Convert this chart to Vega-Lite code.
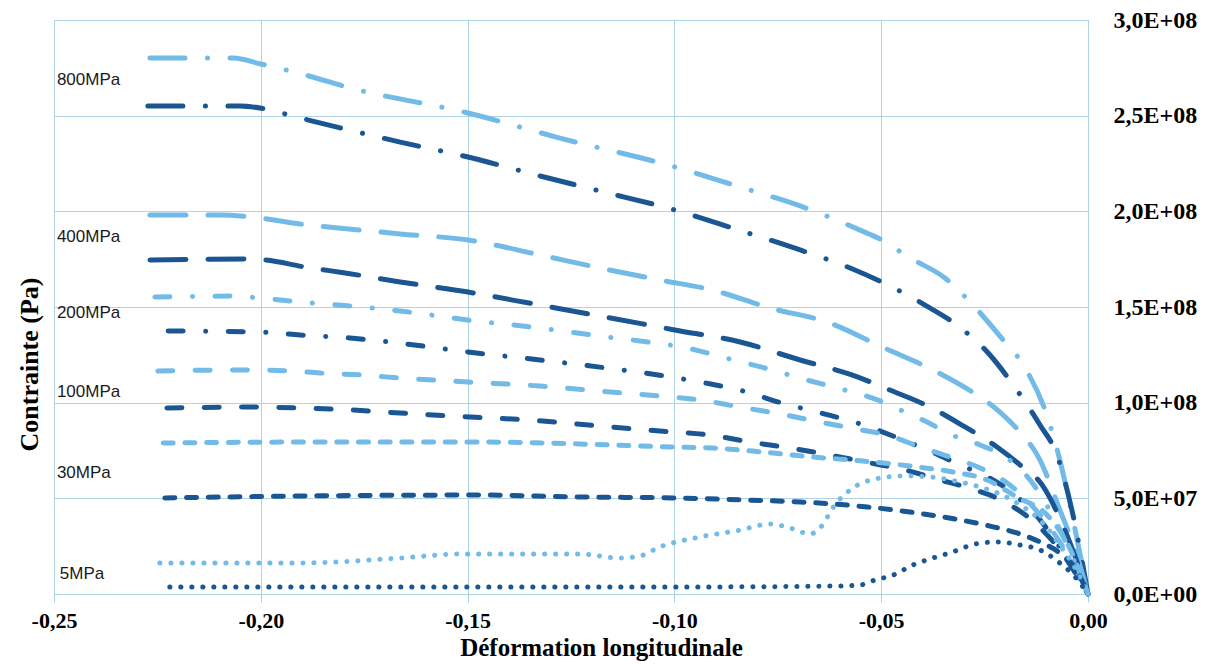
{
"$schema": "https://vega.github.io/schema/vega-lite/v6.json",
"width": 1034, "height": 574,
"autosize": {"type": "none"},
"padding": {"left": 54, "top": 20, "right": 121, "bottom": 70},
"background": "white",
"config": {"view": {"stroke": "#a9cfe4", "strokeWidth": 1}},
"datasets": {
"curves": [
{"c":"L800","p":"800","tone":"light","e":-0.2268,"s":2.801e8},{"c":"L800","p":"800","tone":"light","e":-0.2067,"s":2.801e8},{"c":"L800","p":"800","tone":"light","e":-0.2000,"s":2.770e8},{"c":"L800","p":"800","tone":"light","e":-0.1893,"s":2.713e8},{"c":"L800","p":"800","tone":"light","e":-0.1784,"s":2.645e8},{"c":"L800","p":"800","tone":"light","e":-0.1499,"s":2.514e8},{"c":"L800","p":"800","tone":"light","e":-0.1277,"s":2.383e8},{"c":"L800","p":"800","tone":"light","e":-0.0999,"s":2.232e8},{"c":"L800","p":"800","tone":"light","e":-0.0841,"s":2.127e8},{"c":"L800","p":"800","tone":"light","e":-0.0696,"s":2.028e8},{"c":"L800","p":"800","tone":"light","e":-0.0551,"s":1.902e8},{"c":"L800","p":"800","tone":"light","e":-0.0498,"s":1.850e8},{"c":"L800","p":"800","tone":"light","e":-0.0430,"s":1.756e8},{"c":"L800","p":"800","tone":"light","e":-0.0346,"s":1.652e8},{"c":"L800","p":"800","tone":"light","e":-0.0278,"s":1.510e8},{"c":"L800","p":"800","tone":"light","e":-0.0213,"s":1.348e8},{"c":"L800","p":"800","tone":"light","e":-0.0152,"s":1.181e8},{"c":"L800","p":"800","tone":"light","e":-0.0104,"s":0.962e8},{"c":"L800","p":"800","tone":"light","e":-0.0068,"s":0.700e8},{"c":"L800","p":"800","tone":"light","e":-0.0031,"s":0.334e8},{"c":"L800","p":"800","tone":"light","e":0,"s":0},
{"c":"D800","p":"800","tone":"dark","e":-0.2273,"s":2.551e8},{"c":"D800","p":"800","tone":"dark","e":-0.2050,"s":2.551e8},{"c":"D800","p":"800","tone":"dark","e":-0.2002,"s":2.540e8},{"c":"D800","p":"800","tone":"dark","e":-0.1905,"s":2.488e8},{"c":"D800","p":"800","tone":"dark","e":-0.1808,"s":2.436e8},{"c":"D800","p":"800","tone":"dark","e":-0.1663,"s":2.362e8},{"c":"D800","p":"800","tone":"dark","e":-0.1499,"s":2.284e8},{"c":"D800","p":"800","tone":"dark","e":-0.1325,"s":2.185e8},{"c":"D800","p":"800","tone":"dark","e":-0.1180,"s":2.106e8},{"c":"D800","p":"800","tone":"dark","e":-0.0999,"s":2.007e8},{"c":"D800","p":"800","tone":"dark","e":-0.0853,"s":1.908e8},{"c":"D800","p":"800","tone":"dark","e":-0.0696,"s":1.798e8},{"c":"D800","p":"800","tone":"dark","e":-0.0575,"s":1.704e8},{"c":"D800","p":"800","tone":"dark","e":-0.0484,"s":1.615e8},{"c":"D800","p":"800","tone":"dark","e":-0.0394,"s":1.510e8},{"c":"D800","p":"800","tone":"dark","e":-0.0314,"s":1.401e8},{"c":"D800","p":"800","tone":"dark","e":-0.0237,"s":1.249e8},{"c":"D800","p":"800","tone":"dark","e":-0.0179,"s":1.087e8},{"c":"D800","p":"800","tone":"dark","e":-0.0116,"s":0.883e8},{"c":"D800","p":"800","tone":"dark","e":-0.0075,"s":0.726e8},{"c":"D800","p":"800","tone":"dark","e":-0.0039,"s":0.439e8},{"c":"D800","p":"800","tone":"dark","e":0,"s":0},
{"c":"L400","p":"400","tone":"light","e":-0.2268,"s":1.981e8},{"c":"L400","p":"400","tone":"light","e":-0.2099,"s":1.981e8},{"c":"L400","p":"400","tone":"light","e":-0.2002,"s":1.965e8},{"c":"L400","p":"400","tone":"light","e":-0.1905,"s":1.934e8},{"c":"L400","p":"400","tone":"light","e":-0.1760,"s":1.902e8},{"c":"L400","p":"400","tone":"light","e":-0.1663,"s":1.882e8},{"c":"L400","p":"400","tone":"light","e":-0.1499,"s":1.850e8},{"c":"L400","p":"400","tone":"light","e":-0.1325,"s":1.772e8},{"c":"L400","p":"400","tone":"light","e":-0.1180,"s":1.704e8},{"c":"L400","p":"400","tone":"light","e":-0.1035,"s":1.641e8},{"c":"L400","p":"400","tone":"light","e":-0.0909,"s":1.589e8},{"c":"L400","p":"400","tone":"light","e":-0.0769,"s":1.495e8},{"c":"L400","p":"400","tone":"light","e":-0.0624,"s":1.416e8},{"c":"L400","p":"400","tone":"light","e":-0.0498,"s":1.291e8},{"c":"L400","p":"400","tone":"light","e":-0.0365,"s":1.160e8},{"c":"L400","p":"400","tone":"light","e":-0.0280,"s":1.056e8},{"c":"L400","p":"400","tone":"light","e":-0.0213,"s":0.951e8},{"c":"L400","p":"400","tone":"light","e":-0.0169,"s":0.857e8},{"c":"L400","p":"400","tone":"light","e":-0.0116,"s":0.700e8},{"c":"L400","p":"400","tone":"light","e":-0.0068,"s":0.439e8},{"c":"L400","p":"400","tone":"light","e":-0.0031,"s":0.230e8},{"c":"L400","p":"400","tone":"light","e":0,"s":0},
{"c":"D400","p":"400","tone":"dark","e":-0.2268,"s":1.746e8},{"c":"D400","p":"400","tone":"dark","e":-0.2038,"s":1.751e8},{"c":"D400","p":"400","tone":"dark","e":-0.1990,"s":1.746e8},{"c":"D400","p":"400","tone":"dark","e":-0.1893,"s":1.709e8},{"c":"D400","p":"400","tone":"dark","e":-0.1796,"s":1.678e8},{"c":"D400","p":"400","tone":"dark","e":-0.1663,"s":1.631e8},{"c":"D400","p":"400","tone":"dark","e":-0.1499,"s":1.578e8},{"c":"D400","p":"400","tone":"dark","e":-0.1325,"s":1.510e8},{"c":"D400","p":"400","tone":"dark","e":-0.1180,"s":1.453e8},{"c":"D400","p":"400","tone":"dark","e":-0.0999,"s":1.380e8},{"c":"D400","p":"400","tone":"dark","e":-0.0841,"s":1.317e8},{"c":"D400","p":"400","tone":"dark","e":-0.0696,"s":1.223e8},{"c":"D400","p":"400","tone":"dark","e":-0.0571,"s":1.145e8},{"c":"D400","p":"400","tone":"dark","e":-0.0479,"s":1.066e8},{"c":"D400","p":"400","tone":"dark","e":-0.0382,"s":0.977e8},{"c":"D400","p":"400","tone":"dark","e":-0.0305,"s":0.883e8},{"c":"D400","p":"400","tone":"dark","e":-0.0220,"s":0.768e8},{"c":"D400","p":"400","tone":"dark","e":-0.0164,"s":0.674e8},{"c":"D400","p":"400","tone":"dark","e":-0.0111,"s":0.570e8},{"c":"D400","p":"400","tone":"dark","e":-0.0056,"s":0.334e8},{"c":"D400","p":"400","tone":"dark","e":0,"s":0},
{"c":"L200","p":"200","tone":"light","e":-0.2256,"s":1.552e8},{"c":"L200","p":"200","tone":"light","e":-0.2074,"s":1.557e8},{"c":"L200","p":"200","tone":"light","e":-0.2002,"s":1.547e8},{"c":"L200","p":"200","tone":"light","e":-0.1905,"s":1.526e8},{"c":"L200","p":"200","tone":"light","e":-0.1784,"s":1.505e8},{"c":"L200","p":"200","tone":"light","e":-0.1663,"s":1.479e8},{"c":"L200","p":"200","tone":"light","e":-0.1499,"s":1.432e8},{"c":"L200","p":"200","tone":"light","e":-0.1325,"s":1.390e8},{"c":"L200","p":"200","tone":"light","e":-0.1161,"s":1.343e8},{"c":"L200","p":"200","tone":"light","e":-0.1064,"s":1.317e8},{"c":"L200","p":"200","tone":"light","e":-0.0970,"s":1.286e8},{"c":"L200","p":"200","tone":"light","e":-0.0875,"s":1.233e8},{"c":"L200","p":"200","tone":"light","e":-0.0781,"s":1.181e8},{"c":"L200","p":"200","tone":"light","e":-0.0689,"s":1.124e8},{"c":"L200","p":"200","tone":"light","e":-0.0597,"s":1.071e8},{"c":"L200","p":"200","tone":"light","e":-0.0508,"s":1.014e8},{"c":"L200","p":"200","tone":"light","e":-0.0459,"s":0.967e8},{"c":"L200","p":"200","tone":"light","e":-0.0394,"s":0.904e8},{"c":"L200","p":"200","tone":"light","e":-0.0329,"s":0.831e8},{"c":"L200","p":"200","tone":"light","e":-0.0261,"s":0.779e8},{"c":"L200","p":"200","tone":"light","e":-0.0196,"s":0.711e8},{"c":"L200","p":"200","tone":"light","e":-0.0140,"s":0.596e8},{"c":"L200","p":"200","tone":"light","e":-0.0080,"s":0.387e8},{"c":"L200","p":"200","tone":"light","e":0,"s":0},
{"c":"D200","p":"200","tone":"dark","e":-0.2224,"s":1.375e8},{"c":"D200","p":"200","tone":"dark","e":-0.2002,"s":1.369e8},{"c":"D200","p":"200","tone":"dark","e":-0.1905,"s":1.354e8},{"c":"D200","p":"200","tone":"dark","e":-0.1784,"s":1.338e8},{"c":"D200","p":"200","tone":"dark","e":-0.1688,"s":1.317e8},{"c":"D200","p":"200","tone":"dark","e":-0.1499,"s":1.265e8},{"c":"D200","p":"200","tone":"dark","e":-0.1325,"s":1.223e8},{"c":"D200","p":"200","tone":"dark","e":-0.1163,"s":1.181e8},{"c":"D200","p":"200","tone":"dark","e":-0.1023,"s":1.139e8},{"c":"D200","p":"200","tone":"dark","e":-0.0926,"s":1.103e8},{"c":"D200","p":"200","tone":"dark","e":-0.0834,"s":1.061e8},{"c":"D200","p":"200","tone":"dark","e":-0.0740,"s":0.998e8},{"c":"D200","p":"200","tone":"dark","e":-0.0646,"s":0.946e8},{"c":"D200","p":"200","tone":"dark","e":-0.0551,"s":0.889e8},{"c":"D200","p":"200","tone":"dark","e":-0.0459,"s":0.815e8},{"c":"D200","p":"200","tone":"dark","e":-0.0372,"s":0.737e8},{"c":"D200","p":"200","tone":"dark","e":-0.0309,"s":0.674e8},{"c":"D200","p":"200","tone":"dark","e":-0.0242,"s":0.611e8},{"c":"D200","p":"200","tone":"dark","e":-0.0176,"s":0.517e8},{"c":"D200","p":"200","tone":"dark","e":-0.0116,"s":0.387e8},{"c":"D200","p":"200","tone":"dark","e":-0.0056,"s":0.204e8},{"c":"D200","p":"200","tone":"dark","e":0,"s":0},
{"c":"L100","p":"100","tone":"light","e":-0.2249,"s":1.166e8},{"c":"L100","p":"100","tone":"light","e":-0.2026,"s":1.171e8},{"c":"L100","p":"100","tone":"light","e":-0.1929,"s":1.166e8},{"c":"L100","p":"100","tone":"light","e":-0.1857,"s":1.155e8},{"c":"L100","p":"100","tone":"light","e":-0.1760,"s":1.145e8},{"c":"L100","p":"100","tone":"light","e":-0.1663,"s":1.129e8},{"c":"L100","p":"100","tone":"light","e":-0.1499,"s":1.108e8},{"c":"L100","p":"100","tone":"light","e":-0.1325,"s":1.087e8},{"c":"L100","p":"100","tone":"light","e":-0.1156,"s":1.056e8},{"c":"L100","p":"100","tone":"light","e":-0.1035,"s":1.035e8},{"c":"L100","p":"100","tone":"light","e":-0.0938,"s":1.014e8},{"c":"L100","p":"100","tone":"light","e":-0.0841,"s":0.977e8},{"c":"L100","p":"100","tone":"light","e":-0.0745,"s":0.941e8},{"c":"L100","p":"100","tone":"light","e":-0.0660,"s":0.904e8},{"c":"L100","p":"100","tone":"light","e":-0.0575,"s":0.868e8},{"c":"L100","p":"100","tone":"light","e":-0.0479,"s":0.826e8},{"c":"L100","p":"100","tone":"light","e":-0.0406,"s":0.768e8},{"c":"L100","p":"100","tone":"light","e":-0.0334,"s":0.716e8},{"c":"L100","p":"100","tone":"light","e":-0.0261,"s":0.659e8},{"c":"L100","p":"100","tone":"light","e":-0.0189,"s":0.570e8},{"c":"L100","p":"100","tone":"light","e":-0.0116,"s":0.413e8},{"c":"L100","p":"100","tone":"light","e":-0.0056,"s":0.230e8},{"c":"L100","p":"100","tone":"light","e":0,"s":0},
{"c":"D100","p":"100","tone":"dark","e":-0.2227,"s":0.972e8},{"c":"D100","p":"100","tone":"dark","e":-0.2026,"s":0.977e8},{"c":"D100","p":"100","tone":"dark","e":-0.1905,"s":0.972e8},{"c":"D100","p":"100","tone":"dark","e":-0.1784,"s":0.962e8},{"c":"D100","p":"100","tone":"dark","e":-0.1663,"s":0.946e8},{"c":"D100","p":"100","tone":"dark","e":-0.1494,"s":0.925e8},{"c":"D100","p":"100","tone":"dark","e":-0.1349,"s":0.909e8},{"c":"D100","p":"100","tone":"dark","e":-0.1180,"s":0.878e8},{"c":"D100","p":"100","tone":"dark","e":-0.1035,"s":0.852e8},{"c":"D100","p":"100","tone":"dark","e":-0.0914,"s":0.831e8},{"c":"D100","p":"100","tone":"dark","e":-0.0817,"s":0.794e8},{"c":"D100","p":"100","tone":"dark","e":-0.0720,"s":0.763e8},{"c":"D100","p":"100","tone":"dark","e":-0.0624,"s":0.726e8},{"c":"D100","p":"100","tone":"dark","e":-0.0527,"s":0.685e8},{"c":"D100","p":"100","tone":"dark","e":-0.0442,"s":0.648e8},{"c":"D100","p":"100","tone":"dark","e":-0.0358,"s":0.596e8},{"c":"D100","p":"100","tone":"dark","e":-0.0273,"s":0.544e8},{"c":"D100","p":"100","tone":"dark","e":-0.0201,"s":0.481e8},{"c":"D100","p":"100","tone":"dark","e":-0.0128,"s":0.371e8},{"c":"D100","p":"100","tone":"dark","e":-0.0068,"s":0.230e8},{"c":"D100","p":"100","tone":"dark","e":0,"s":0},
{"c":"L30","p":"30","tone":"light","e":-0.2236,"s":0.789e8},{"c":"L30","p":"30","tone":"light","e":-0.1905,"s":0.794e8},{"c":"L30","p":"30","tone":"light","e":-0.1470,"s":0.794e8},{"c":"L30","p":"30","tone":"light","e":-0.1228,"s":0.784e8},{"c":"L30","p":"30","tone":"light","e":-0.1003,"s":0.768e8},{"c":"L30","p":"30","tone":"light","e":-0.0907,"s":0.763e8},{"c":"L30","p":"30","tone":"light","e":-0.0786,"s":0.742e8},{"c":"L30","p":"30","tone":"light","e":-0.0665,"s":0.716e8},{"c":"L30","p":"30","tone":"light","e":-0.0544,"s":0.695e8},{"c":"L30","p":"30","tone":"light","e":-0.0413,"s":0.664e8},{"c":"L30","p":"30","tone":"light","e":-0.0327,"s":0.638e8},{"c":"L30","p":"30","tone":"light","e":-0.0244,"s":0.596e8},{"c":"L30","p":"30","tone":"light","e":-0.0172,"s":0.507e8},{"c":"L30","p":"30","tone":"light","e":-0.0099,"s":0.413e8},{"c":"L30","p":"30","tone":"light","e":-0.0048,"s":0.256e8},{"c":"L30","p":"30","tone":"light","e":0,"s":0},
{"c":"D30","p":"30","tone":"dark","e":-0.2232,"s":0.502e8},{"c":"D30","p":"30","tone":"dark","e":-0.1905,"s":0.512e8},{"c":"D30","p":"30","tone":"dark","e":-0.1470,"s":0.517e8},{"c":"D30","p":"30","tone":"dark","e":-0.1228,"s":0.507e8},{"c":"D30","p":"30","tone":"dark","e":-0.1003,"s":0.502e8},{"c":"D30","p":"30","tone":"dark","e":-0.0824,"s":0.491e8},{"c":"D30","p":"30","tone":"dark","e":-0.0696,"s":0.481e8},{"c":"D30","p":"30","tone":"dark","e":-0.0534,"s":0.455e8},{"c":"D30","p":"30","tone":"dark","e":-0.0413,"s":0.423e8},{"c":"D30","p":"30","tone":"dark","e":-0.0309,"s":0.387e8},{"c":"D30","p":"30","tone":"dark","e":-0.0237,"s":0.355e8},{"c":"D30","p":"30","tone":"dark","e":-0.0172,"s":0.319e8},{"c":"D30","p":"30","tone":"dark","e":-0.0116,"s":0.272e8},{"c":"D30","p":"30","tone":"dark","e":-0.0068,"s":0.214e8},{"c":"D30","p":"30","tone":"dark","e":-0.0031,"s":0.136e8},{"c":"D30","p":"30","tone":"dark","e":0,"s":0},
{"c":"L5","p":"5","tone":"light","e":-0.2244,"s":0.162e8},{"c":"L5","p":"5","tone":"light","e":-0.1905,"s":0.162e8},{"c":"L5","p":"5","tone":"light","e":-0.1663,"s":0.188e8},{"c":"L5","p":"5","tone":"light","e":-0.1518,"s":0.209e8},{"c":"L5","p":"5","tone":"light","e":-0.1373,"s":0.209e8},{"c":"L5","p":"5","tone":"light","e":-0.1228,"s":0.209e8},{"c":"L5","p":"5","tone":"light","e":-0.1132,"s":0.188e8},{"c":"L5","p":"5","tone":"light","e":-0.1083,"s":0.199e8},{"c":"L5","p":"5","tone":"light","e":-0.1035,"s":0.246e8},{"c":"L5","p":"5","tone":"light","e":-0.0938,"s":0.298e8},{"c":"L5","p":"5","tone":"light","e":-0.0841,"s":0.334e8},{"c":"L5","p":"5","tone":"light","e":-0.0769,"s":0.366e8},{"c":"L5","p":"5","tone":"light","e":-0.0720,"s":0.345e8},{"c":"L5","p":"5","tone":"light","e":-0.0672,"s":0.314e8},{"c":"L5","p":"5","tone":"light","e":-0.0648,"s":0.345e8},{"c":"L5","p":"5","tone":"light","e":-0.0612,"s":0.465e8},{"c":"L5","p":"5","tone":"light","e":-0.0575,"s":0.544e8},{"c":"L5","p":"5","tone":"light","e":-0.0515,"s":0.601e8},{"c":"L5","p":"5","tone":"light","e":-0.0442,"s":0.617e8},{"c":"L5","p":"5","tone":"light","e":-0.0382,"s":0.612e8},{"c":"L5","p":"5","tone":"light","e":-0.0322,"s":0.591e8},{"c":"L5","p":"5","tone":"light","e":-0.0261,"s":0.559e8},{"c":"L5","p":"5","tone":"light","e":-0.0213,"s":0.523e8},{"c":"L5","p":"5","tone":"light","e":-0.0164,"s":0.465e8},{"c":"L5","p":"5","tone":"light","e":-0.0116,"s":0.387e8},{"c":"L5","p":"5","tone":"light","e":-0.0068,"s":0.256e8},{"c":"L5","p":"5","tone":"light","e":-0.0031,"s":0.136e8},{"c":"L5","p":"5","tone":"light","e":0,"s":0},
{"c":"D5","p":"5","tone":"dark","e":-0.2220,"s":0.037e8},{"c":"D5","p":"5","tone":"dark","e":-0.0938,"s":0.037e8},{"c":"D5","p":"5","tone":"dark","e":-0.0600,"s":0.042e8},{"c":"D5","p":"5","tone":"dark","e":-0.0551,"s":0.047e8},{"c":"D5","p":"5","tone":"dark","e":-0.0515,"s":0.073e8},{"c":"D5","p":"5","tone":"dark","e":-0.0471,"s":0.099e8},{"c":"D5","p":"5","tone":"dark","e":-0.0423,"s":0.152e8},{"c":"D5","p":"5","tone":"dark","e":-0.0375,"s":0.188e8},{"c":"D5","p":"5","tone":"dark","e":-0.0327,"s":0.220e8},{"c":"D5","p":"5","tone":"dark","e":-0.0273,"s":0.261e8},{"c":"D5","p":"5","tone":"dark","e":-0.0220,"s":0.272e8},{"c":"D5","p":"5","tone":"dark","e":-0.0164,"s":0.256e8},{"c":"D5","p":"5","tone":"dark","e":-0.0116,"s":0.230e8},{"c":"D5","p":"5","tone":"dark","e":-0.0068,"s":0.162e8},{"c":"D5","p":"5","tone":"dark","e":-0.0031,"s":0.089e8},{"c":"D5","p":"5","tone":"dark","e":0,"s":0}
],
"labels": [
{"t":"800MPa","e":-0.2493,"s":2.686e8},
{"t":"400MPa","e":-0.2493,"s":1.866e8},
{"t":"200MPa","e":-0.2493,"s":1.469e8},
{"t":"100MPa","e":-0.2493,"s":1.056e8},
{"t":"30MPa","e":-0.2493,"s":0.632e8},
{"t":"5MPa","e":-0.2486,"s":0.105e8}
]
},
"layer": [
{
"data": {"name": "curves"},
"mark": {"type": "line", "strokeWidth": 5, "strokeCap": "round", "strokeJoin": "round", "interpolate": "monotone"},
"encoding": {
"x": {"field": "e", "type": "quantitative", "scale": {"domain": [-0.25, 0], "nice": false, "zero": false},
"axis": {"values": [-0.25, -0.2, -0.15, -0.1, -0.05, 0],
"labelExpr": "replace(replace(format(datum.value, '.2f'), '.', ','), '\u2212', '-')",
"title": "Déformation longitudinale", "titleFont": "Liberation Serif", "titleFontSize": 25, "titleFontWeight": "bold", "titleColor": "#000000",
"titleX": 547, "titleY": 53, "titleBaseline": "middle", "titleAlign": "center",
"labelFont": "Liberation Serif", "labelFontSize": 22, "labelFontWeight": "bold", "labelColor": "#000000",
"labelFlush": false, "labelOverlap": false, "labelPadding": 8,
"domain": false, "ticks": true, "tickSize": 8, "tickColor": "#a9cfe4",
"grid": true, "gridColor": "#b0d3e6", "gridWidth": 1}},
"y": {"field": "s", "type": "quantitative", "scale": {"domain": [0, 300000000], "nice": false},
"axis": {"orient": "right", "values": [0, 50000000, 100000000, 150000000, 200000000, 250000000, 300000000],
"labelExpr": "datum.value == 0 ? '0,0E+00' : (datum.value < 100000000 ? replace(format(datum.value / 10000000, '.1f'), '.', ',') + 'E+07' : replace(format(datum.value / 100000000, '.1f'), '.', ',') + 'E+08')",
"title": "Contrainte (Pa)", "titleFont": "Liberation Serif", "titleFontSize": 26, "titleFontWeight": "bold", "titleColor": "#000000",
"titleX": -1059, "titleY": 344, "titleAngle": 270, "titleAlign": "center", "titleBaseline": "middle",
"labelFont": "Liberation Serif", "labelFontSize": 24, "labelFontWeight": "bold", "labelColor": "#000000",
"labelAlign": "left", "labelBaseline": "middle", "labelFlush": false, "labelOverlap": false, "labelPadding": 25,
"domain": false, "ticks": false,
"grid": true, "gridColor": "#b0d3e6", "gridWidth": 1}},
"detail": {"field": "c", "type": "nominal"},
"color": {"field": "tone", "type": "nominal", "scale": {"domain": ["light", "dark"], "range": ["#72bbe8", "#1a5693"]}, "legend": null},
"strokeDash": {"field": "p", "type": "nominal", "scale": {"domain": ["800", "400", "200", "100", "30", "5"], "range": [[35, 22.5, 0.1, 22.5], [36, 22], [15, 22.5, 0.1, 22.5], [15, 22.3], [10, 11.7], [0.1, 10.9]]}, "legend": null}
}
},
{
"data": {"name": "labels"},
"mark": {"type": "text", "align": "left", "baseline": "middle", "font": "Liberation Sans", "fontSize": 17, "color": "#1a1a1a"},
"encoding": {
"x": {"field": "e", "type": "quantitative"},
"y": {"field": "s", "type": "quantitative"},
"text": {"field": "t", "type": "nominal"}
}
}
]
}
